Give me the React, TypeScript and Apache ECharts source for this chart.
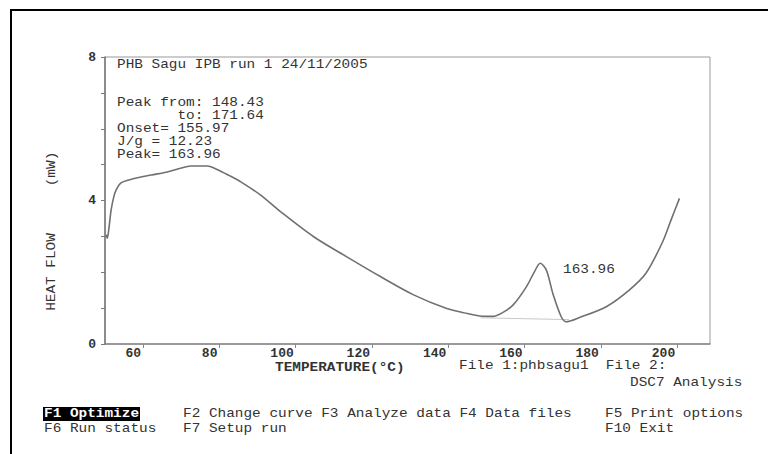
import React, { useEffect, useRef } from "react";
import * as echarts from "echarts";

const temperature = [50.3, 50.6, 51.0, 51.6, 52.3, 52.9, 54.2, 56.9, 62.1, 66.0, 69.5, 72.5, 76.9, 79.5, 82.5, 85.6, 90.8, 96.0, 104.7, 113.4, 122.2, 130.9, 139.6, 145.0, 148.3, 151.7, 154.0, 157.0, 160.5, 162.6, 164.1, 165.7, 167.4, 169.6, 170.9, 174.4, 181.4, 187.5, 191.8, 196.2, 198.4, 200.6];
const heatFlow = [3.05, 2.95, 3.2, 3.73, 4.1, 4.29, 4.49, 4.59, 4.71, 4.79, 4.89, 4.96, 4.96, 4.86, 4.7, 4.52, 4.15, 3.69, 2.99, 2.43, 1.88, 1.37, 0.99, 0.85, 0.78, 0.77, 0.86, 1.09, 1.6, 2.02, 2.25, 2.06, 1.41, 0.76, 0.62, 0.74, 1.04, 1.51, 1.97, 2.85, 3.46, 4.06];
const baselineT = [148.43, 171.64];
const baselineH = [0.73, 0.68];
const xTicks = [60, 80, 100, 120, 140, 160, 180, 200];
const yLabelValues = [0, 4, 8];

const infoLines = [
  "PHB Sagu IPB run 1 24/11/2005",
  "",
  "Peak from: 148.43",
  "       to: 171.64",
  "Onset= 155.97",
  "J/g = 12.23",
  "Peak= 163.96",
];

const MONO = "'Liberation Mono', 'DejaVu Sans Mono', monospace";

export default function App() {
  const ref = useRef<HTMLDivElement>(null);
  useEffect(() => {
    if (!ref.current) return;
    document.body.style.margin = "0";
    const chart = echarts.init(ref.current, undefined, { renderer: "svg" });
    const txt = (text: string, x: number, y: number, extra: any = {}, bold = false) => ({
      type: "text",
      x,
      y,
      scaleX: 1.2,
      style: {
        text,
        font: `${bold ? "bold " : ""}12px ${MONO}`,
        fill: "#333",
        verticalAlign: "middle",
        ...extra,
      },
    });
    const infoY = [65, 0, 103, 116, 129, 142, 155];
    const graphics: any[] = [
      {
        type: "rect",
        shape: { x: 11, y: 10, width: 820, height: 520 },
        style: { fill: "none", stroke: "#000", lineWidth: 2 },
      },
    ];
    infoLines.forEach((l, i) => {
      if (l) graphics.push(txt(l, 117, infoY[i]));
    });
    graphics.push(txt("163.96", 563, 270));
    graphics.push({
      ...txt("HEAT FLOW", 52, 272, { align: "center" }),
      rotation: Math.PI / 2,
    });
    graphics.push({
      ...txt("(mW)", 52, 169, { align: "center" }),
      rotation: Math.PI / 2,
    });
    graphics.push(txt("TEMPERATURE(°C)", 275, 368, {}, true));
    graphics.push(txt("File 1:phbsagu1  File 2:", 459, 366));
    graphics.push(txt("DSC7 Analysis", 630, 383));
    graphics.push({
      type: "rect",
      shape: { x: 43, y: 407, width: 97, height: 14 },
      style: { fill: "#000" },
    });
    graphics.push(txt("F1 Optimize", 44, 414, { fill: "#fff" }, true));
    graphics.push(txt("F2 Change curve F3 Analyze data F4 Data files", 183, 414));
    graphics.push(txt("F5 Print options", 605, 414));
    graphics.push(txt("F6 Run status", 44, 429));
    graphics.push(txt("F7 Setup run", 183, 429));
    graphics.push(txt("F10 Exit", 605, 429));

    chart.setOption({
      animation: false,
      backgroundColor: "#fff",
      grid: {
        left: 105,
        top: 57,
        right: 58,
        bottom: 110,
        show: true,
        borderColor: "#999",
        borderWidth: 1,
        backgroundColor: "transparent",
      },
      xAxis: {
        type: "value",
        min: 50,
        max: 208.6,
        axisLine: { show: true, lineStyle: { color: "#888", width: 1.5 } },
        axisTick: { show: true, length: 4, customValues: xTicks, lineStyle: { color: "#888" } },
        axisLabel: {
          customValues: xTicks,
          align: "right",
          margin: 3,
          fontFamily: MONO,
          fontSize: 13,
          fontWeight: "bold",
          color: "#333",
          padding: [0, 2, 0, 0],
        },
        splitLine: { show: false },
      },
      yAxis: {
        type: "value",
        min: 0,
        max: 8,
        interval: 1,
        axisLine: { show: true, lineStyle: { color: "#777", width: 1.5 } },
        axisTick: { show: true, length: 4, lineStyle: { color: "#777" } },
        axisLabel: {
          formatter: (v: number) => (yLabelValues.includes(v) ? String(v) : ""),
          margin: 9,
          fontFamily: MONO,
          fontSize: 13,
          fontWeight: "bold",
          color: "#333",
        },
        splitLine: { show: false },
      },
      series: [
        {
          type: "line",
          data: baselineT.map((t, i) => [t, baselineH[i]]),
          symbol: "none",
          lineStyle: { color: "#c8c8c8", width: 1 },
          z: 1,
        },
        {
          type: "line",
          data: temperature.map((t, i) => [t, heatFlow[i]]),
          symbol: "none",
          smooth: 0.3,
          lineStyle: { color: "#707070", width: 1.6 },
          z: 2,
        },
      ],
      graphic: graphics,
    });
    return () => chart.dispose();
  }, []);
  return (
    <div
      ref={ref}
      style={{ position: "fixed", left: 0, top: 0, width: 768, height: 454 }}
    />
  );
}
